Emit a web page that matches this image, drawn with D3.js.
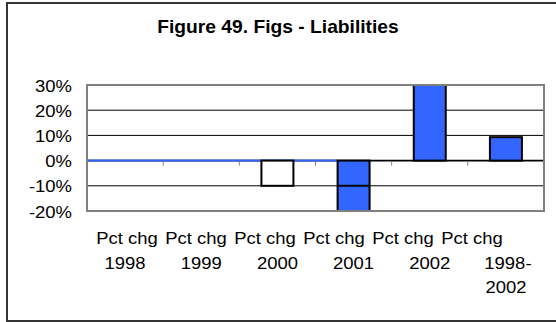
<!DOCTYPE html>
<html>
<head>
<meta charset="utf-8">
<script src="https://cdn.jsdelivr.net/npm/d3@7"></script>
<style>
  html, body { margin: 0; padding: 0; background: #fff; }
  svg { display: block; font-family: "Liberation Sans", Arial, sans-serif; }
</style>
</head>
<body>
<svg id="chart" width="556" height="322"></svg>
<script>
// ---- data ----
const categories = ["1998", "1999", "2000", "2001", "2002", "1998-2002"];
const labelLines = [
  ["Pct chg", "1998"],
  ["Pct chg", "1999"],
  ["Pct chg", "2000"],
  ["Pct chg", "2001"],
  ["Pct chg", "2002"],
  ["Pct chg", "1998-", "2002"]
];
const values = [0, 0, -10, -20, 30, 9.3];
const barFills = ["#3366FF", "#3366FF", "#FFFFFF", "#3366FF", "#3366FF", "#3366FF"];
const yTicks = [-20, -10, 0, 10, 20, 30];
const title = "Figure 49. Figs - Liabilities";

// ---- layout ----
const svg = d3.select("#chart");
const plot = { left: 87, right: 544, top: 85, bottom: 211 };
const blue = "#3366FF";
const sx = 1.12; // horizontal glyph stretch seen in the reference

// outer frame (right edge lies outside the picture)
svg.append("path")
  .attr("d", "M7,322 L7,3 L560,3 M7,321 L560,321")
  .attr("fill", "none").attr("stroke", "#333").attr("stroke-width", 2);

// title
svg.append("text")
  .attr("transform", `translate(278,33) scale(1.1,1)`)
  .attr("text-anchor", "middle")
  .attr("font-weight", "bold")
  .attr("font-size", 17.5)
  .attr("fill", "#000")
  .text(title);

const x = d3.scaleBand()
  .domain(categories)
  .range([plot.left, plot.right])
  .paddingInner(0.58)
  .paddingOuter(0.29);

const y = d3.scaleLinear()
  .domain([-20, 30])
  .range([plot.bottom, plot.top]);

// gridlines (non-zero, inside plot)
svg.append("g").selectAll("line")
  .data(yTicks.filter(t => t !== 0 && t !== 30 && t !== -20))
  .join("line")
  .attr("x1", plot.left).attr("x2", plot.right)
  .attr("y1", d => y(d)).attr("y2", d => y(d))
  .attr("stroke", "#000").attr("stroke-width", 1);

// zero line: black across, blue on the left part
svg.append("line")
  .attr("x1", plot.left).attr("x2", plot.right)
  .attr("y1", y(0)).attr("y2", y(0))
  .attr("stroke", "#000").attr("stroke-width", 1.6);
svg.append("line")
  .attr("x1", plot.left).attr("x2", x("2001"))
  .attr("y1", y(0)).attr("y2", y(0))
  .attr("stroke", blue).attr("stroke-width", 2);

// category tick marks below the zero line
const step = x.step();
svg.append("g").selectAll("line")
  .data(categories.slice(1))
  .join("line")
  .attr("x1", (d, i) => plot.left + (i + 1) * step)
  .attr("x2", (d, i) => plot.left + (i + 1) * step)
  .attr("y1", y(0) + 1).attr("y2", y(0) + 5)
  .attr("stroke", "#808080").attr("stroke-width", 1);

// bars
const bars = categories.map((c, i) => ({ c, v: values[i], fill: barFills[i] }))
  .filter(d => d.v !== 0);
svg.append("g").selectAll("rect")
  .data(bars)
  .join("rect")
  .attr("x", d => x(d.c))
  .attr("width", x.bandwidth())
  .attr("y", d => y(Math.max(0, d.v)))
  .attr("height", d => Math.abs(y(d.v) - y(0)))
  .attr("fill", d => d.fill)
  .attr("stroke", "#000").attr("stroke-width", 2);

// gridline segments visible through negative bars
const inner = [];
bars.forEach(b => {
  yTicks.forEach(t => { if (t < 0 && t > b.v) inner.push({ c: b.c, t }); });
});
svg.append("g").selectAll("line")
  .data(inner)
  .join("line")
  .attr("x1", d => x(d.c)).attr("x2", d => x(d.c) + x.bandwidth())
  .attr("y1", d => y(d.t)).attr("y2", d => y(d.t))
  .attr("stroke", "#000").attr("stroke-width", 2);

// plot border
svg.append("rect")
  .attr("x", plot.left).attr("y", plot.top)
  .attr("width", plot.right - plot.left).attr("height", plot.bottom - plot.top)
  .attr("fill", "none").attr("stroke", "#808080").attr("stroke-width", 2);

// y axis labels
svg.append("g").selectAll("text")
  .data(yTicks)
  .join("text")
  .attr("transform", d => `translate(72,${y(d) + 6.5}) scale(${sx},1)`)
  .attr("text-anchor", "end")
  .attr("font-size", 16.5)
  .attr("fill", "#000")
  .text(d => d + "%");

// x axis labels: first line runs in a compressed row, others centred on the band
const row1 = d3.scaleLinear().domain([0, categories.length - 1]).range([127, 472]);
const xl = svg.append("g");
labelLines.forEach((lines, i) => {
  lines.forEach((ln, j) => {
    const cx = j === 0 ? row1(i) : x(categories[i]) + x.bandwidth() / 2 + (ln.endsWith("-") ? 2 : 0);
    xl.append("text")
      .attr("transform", `translate(${cx},${244 + j * 24.5}) scale(${sx},1)`)
      .attr("text-anchor", "middle")
      .attr("font-size", 16.5)
      .attr("fill", "#000")
      .text(ln);
  });
});
</script>
</body>
</html>
